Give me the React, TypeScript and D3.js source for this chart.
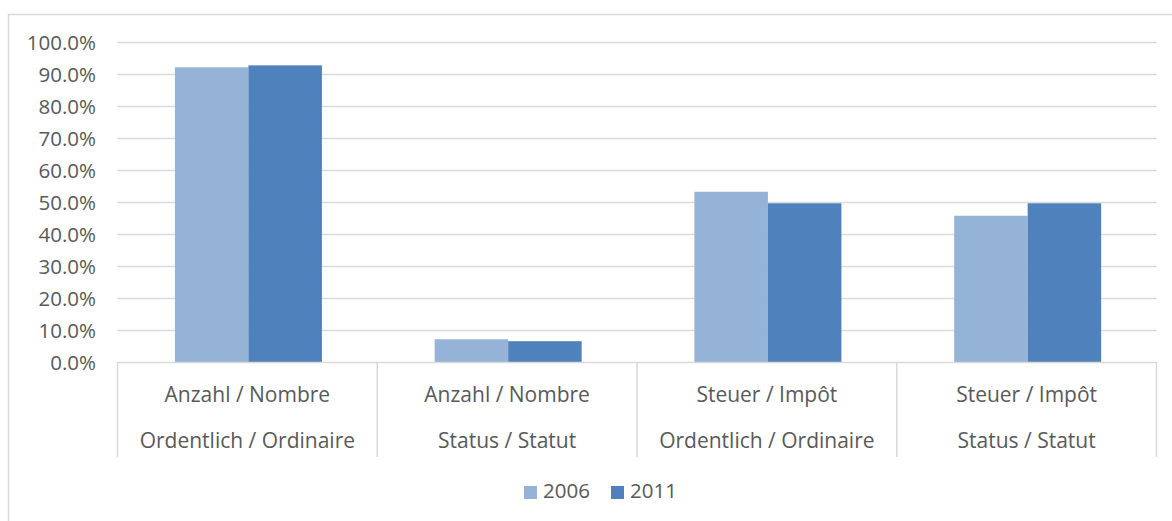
import React from "react";
import * as d3 from "d3";

const categories = [
  ["Anzahl / Nombre", "Ordentlich / Ordinaire"],
  ["Anzahl / Nombre", "Status / Statut"],
  ["Steuer / Impôt", "Ordentlich / Ordinaire"],
  ["Steuer / Impôt", "Status / Statut"],
];
const seriesNames = ["2006", "2011"];
const values2006 = [0.921, 0.071, 0.532, 0.457];
const values2011 = [0.927, 0.065, 0.496, 0.496];
const yTicks = [0, 0.1, 0.2, 0.3, 0.4, 0.5, 0.6, 0.7, 0.8, 0.9, 1.0];
const colors = ["#95b3d7", "#4f81bd"];

const W = 1172;
const H = 521;
const FONT = "'Open Sans', sans-serif";
const TEXT = "#595959";
const GRID = "#d9d9d9";

export default function App() {
  const left = 117.5;
  const right = 1156.5;
  const top = 42;
  const bottom = 362;
  const y = d3.scaleLinear().domain([0, 1]).range([bottom, top]);
  const x0 = d3
    .scaleBand<number>()
    .domain(categories.map((_, i) => i))
    .range([left, right])
    .padding(0);
  const bw = x0.bandwidth();
  const x1 = d3.scaleBand<string>().domain(seriesNames).range([bw * 0.221, bw * 0.787]);
  const series = [values2006, values2011];
  const fmt = d3.format(".1%");

  return (
    <svg
      width={W}
      height={H}
      style={{ position: "absolute", left: 0, top: 0, background: "#fff" }}
    >
      <rect x={8.5} y={14.5} width={W + 20} height={H + 20} fill="#fff" stroke={GRID} strokeWidth={1.5} />
      {yTicks.map((t) => (
        <g key={t}>
          {t > 0 && (
            <line x1={left} x2={right} y1={Math.round(y(t)) + 0.5} y2={Math.round(y(t)) + 0.5} stroke={GRID} strokeWidth={1.5} />
          )}
          <text
            x={96}
            y={y(t) + 8}
            textAnchor="end"
            fontFamily={FONT}
            fontSize={20.5}
            fill={TEXT}
          >
            {fmt(t)}
          </text>
        </g>
      ))}
      {series.map((vals, si) =>
        vals.map((v, ci) => (
          <rect
            key={`${si}-${ci}`}
            x={(x0(ci) as number) + (x1(seriesNames[si]) as number)}
            y={y(v)}
            width={x1.bandwidth()}
            height={bottom - y(v)}
            fill={colors[si]}
          />
        ))
      )}
      <line x1={left} x2={right} y1={bottom + 0.5} y2={bottom + 0.5} stroke={GRID} strokeWidth={1.5} />
      {[...categories.map((_, i) => x0(i) as number), right].map((xx, i) => (
        <line key={i} x1={xx} x2={xx} y1={bottom} y2={457} stroke={GRID} strokeWidth={1.5} />
      ))}
      {categories.map((c, i) => (
        <g key={i} fontFamily={FONT} fontSize={21} fill={TEXT} textAnchor="middle">
          <text x={(x0(i) as number) + bw / 2} y={402}>
            {c[0]}
          </text>
          <text x={(x0(i) as number) + bw / 2} y={448}>
            {c[1]}
          </text>
        </g>
      ))}
      {seriesNames.map((s, i) => {
        const lx = 524 + i * 87;
        return (
          <g key={s}>
            <rect x={lx} y={486} width={13} height={13} fill={colors[i]} />
            <text x={lx + 19} y={498} fontFamily={FONT} fontSize={20.5} fill={TEXT}>
              {s}
            </text>
          </g>
        );
      })}
    </svg>
  );
}
